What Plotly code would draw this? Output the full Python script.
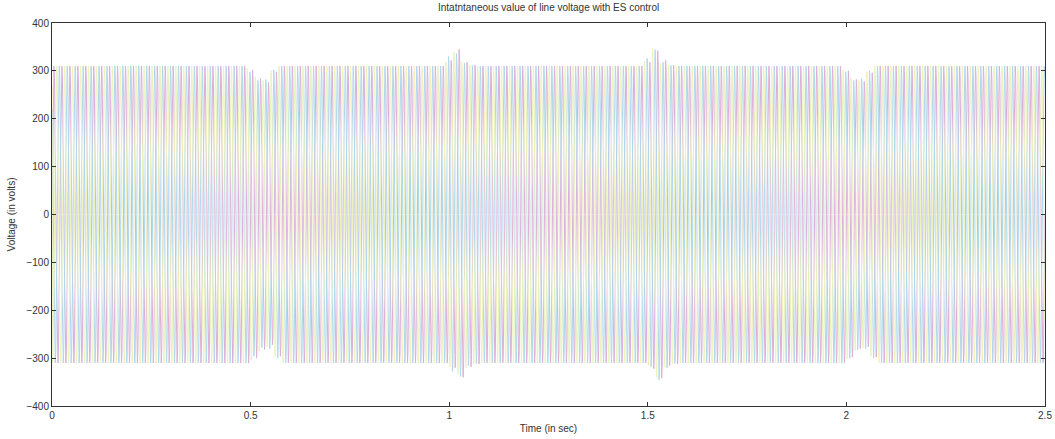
import plotly.graph_objects as go

# ---- data ----
phase_names = ["Vab", "Vbc", "Vca"]
phase_colors = ["#dcb0d8", "#b0d8ec", "#ecf2bc"]
freq_hz = 50
phase_shift_s = [0.0, 1 / 150, 2 / 150]
start_values = [0, -268, 268]

# normalised shape of one half-cycle as seen on the trace (relative to its peak)
half_cycle_shape = [0.0, 0.38, 0.71, 0.92, 1.0, 0.92, 0.71, 0.38]

# positive peak value of each cycle (125 cycles over 2.5 s)
pos_peaks = [
    [310] * 25 + [302, 284, 276, 298] + [310] * 21 + [322, 345, 318, 312] + [310] * 21
    + [318, 342, 322, 312] + [310] * 21 + [300, 282, 278, 296] + [310] * 21,
    [310] * 25 + [298, 280, 282, 302] + [310] * 21 + [330, 336, 316, 311] + [310] * 21
    + [326, 344, 318, 311] + [310] * 21 + [298, 280, 284, 300] + [310] * 21,
    [310] * 25 + [305, 288, 280, 300] + [310] * 21 + [318, 340, 320, 312] + [310] * 21
    + [320, 346, 316, 312] + [310] * 21 + [302, 286, 280, 298] + [310] * 21,
]
# negative peak value of each cycle
neg_peaks = [
    [-310] * 25 + [-300, -282, -272, -296] + [-310] * 21 + [-320, -340, -318, -312] + [-310] * 21
    + [-322, -342, -316, -312] + [-310] * 21 + [-298, -280, -276, -298] + [-310] * 21,
    [-310] * 25 + [-296, -278, -280, -300] + [-310] * 21 + [-328, -338, -316, -311] + [-310] * 21
    + [-318, -345, -320, -311] + [-310] * 21 + [-300, -282, -280, -300] + [-310] * 21,
    [-310] * 25 + [-304, -286, -276, -298] + [-310] * 21 + [-318, -334, -320, -312] + [-310] * 21
    + [-316, -340, -318, -312] + [-310] * 21 + [-302, -284, -278, -296] + [-310] * 21,
]

x_ticks = [0, 0.5, 1, 1.5, 2, 2.5]
x_tick_labels = ["0", "0.5", "1", "1.5", "2", "2.5"]
y_ticks = [-400, -300, -200, -100, 0, 100, 200, 300, 400]

period = 1 / freq_hz
t_end = 2.5
n_shape = len(half_cycle_shape)

fig = go.Figure()
for p in range(3):
    xs = [0.0]
    ys = [start_values[p]]
    for k in range(-1, len(pos_peaks[p]) + 1):
        kk = min(max(k, 0), len(pos_peaks[p]) - 1)
        for half, amp in ((0, pos_peaks[p][kk]), (1, neg_peaks[p][kk])):
            for j, s in enumerate(half_cycle_shape):
                t = k * period + half * period / 2 + j * (period / 2) / n_shape - phase_shift_s[p]
                if 0 < t <= t_end:
                    xs.append(t)
                    ys.append(s * amp)
    fig.add_trace(go.Scatter(x=xs, y=ys, mode="lines", name=phase_names[p],
                             line=dict(color=phase_colors[p], width=1),
                             showlegend=False, hoverinfo="skip"))

font_small = dict(family="Liberation Sans, Arial", size=10, color="#333333")
axis_common = dict(
    showgrid=False, zeroline=False, showline=True, mirror="ticks",
    linecolor="#333333", linewidth=1, ticks="inside", ticklen=4,
    tickcolor="#333333", tickfont=font_small, automargin=False,
)

fig.update_layout(
    width=1055, height=439,
    margin=dict(l=52, r=10, t=23, b=33, autoexpand=False),
    paper_bgcolor="white", plot_bgcolor="white",
    title=dict(text="Intatntaneous value of line voltage with ES control",
               x=0.52, xanchor="center", y=0.982, yanchor="middle",
               font=font_small, automargin=False),
    xaxis=dict(range=[0, 2.5], tickvals=x_ticks, ticktext=x_tick_labels,
               title=dict(text="Time (in sec)", standoff=4, font=font_small),
               **axis_common),
    yaxis=dict(range=[-400, 400], tickvals=y_ticks,
               title=dict(text="Voltage (in volts)", standoff=8, font=font_small),
               **axis_common),
)

fig.write_html("out.html", config={"displayModeBar": False},
               post_script="document.body.style.margin='0';document.body.style.overflow='hidden';")
